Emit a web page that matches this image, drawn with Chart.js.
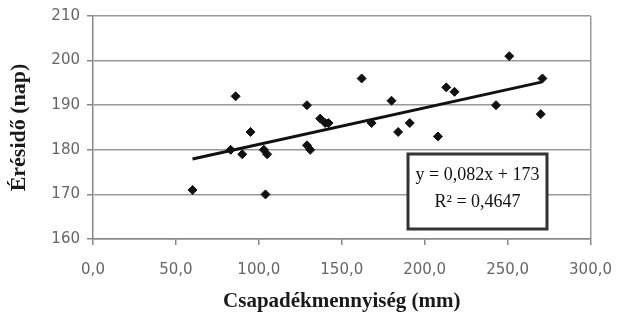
<!DOCTYPE html>
<html>
<head>
<meta charset="utf-8">
<script src="https://cdn.jsdelivr.net/npm/chart.js@4.4.1/dist/chart.umd.min.js"></script>
<style>
  html, body { margin: 0; padding: 0; background: #fff; }
</style>
</head>
<body>
<canvas id="chart" width="628" height="321"></canvas>
<script>
// csapadék (mm) vs. érésidő (nap)
const rainfall = [60, 83, 86, 90, 95, 103, 105, 104, 129, 129, 131, 137, 140, 142, 162, 168, 180, 184, 191, 208, 213, 218, 243, 251, 270, 271];
const days     = [171, 180, 192, 179, 184, 180, 179, 170, 190, 181, 180, 187, 186, 186, 196, 186, 191, 184, 186, 183, 194, 193, 190, 201, 188, 196];

// linear trend as printed in the box
const slope = 0.082;
const intercept = 173;
const trendRange = [60, 271];
const eqLines = ['y = 0,082x + 173', 'R² = 0,4647'];

const xTicks = [0, 50, 100, 150, 200, 250, 300];
const yTicks = [160, 170, 180, 190, 200, 210];

const points = rainfall.map((x, i) => ({ x, y: days[i] }));
const trend = trendRange.map(x => ({ x, y: slope * x + intercept }));

const grid = '#999';
const axis = '#888';
const tickFont = { family: 'DejaVu Sans', size: 15 };

// equation box drawn on top of the plot
const eqBox = {
  id: 'eqBox',
  afterDraw(chart) {
    const ctx = chart.ctx;
    const x = 408, y = 154, w = 139, h = 75;
    ctx.save();
    ctx.fillStyle = '#fff';
    ctx.fillRect(x, y, w, h);
    ctx.lineWidth = 3;
    ctx.strokeStyle = '#333';
    ctx.strokeRect(x, y, w, h);
    ctx.fillStyle = '#111';
    ctx.font = '18px "Liberation Serif"';
    ctx.textAlign = 'center';
    ctx.textBaseline = 'middle';
    ctx.fillText(eqLines[0], x + w / 2, y + 21);
    ctx.fillText(eqLines[1], x + w / 2, y + 48);
    ctx.restore();
  }
};

new Chart(document.getElementById('chart'), {
  type: 'scatter',
  data: {
    datasets: [
      {
        type: 'line',
        data: trend,
        borderColor: '#111',
        borderWidth: 3,
        pointRadius: 0,
        fill: false
      },
      {
        data: points,
        pointStyle: 'rectRot',
        pointRadius: 4.5,
        backgroundColor: '#111',
        borderColor: '#111',
        borderWidth: 1
      }
    ]
  },
  options: {
    responsive: false,
    animation: false,
    layout: { padding: { top: 16, right: 31, left: 0, bottom: 0 } },
    plugins: { legend: { display: false }, tooltip: { enabled: false } },
    scales: {
      x: {
        type: 'linear',
        min: 0, max: 300,
        afterBuildTicks: s => { s.ticks = xTicks.map(value => ({ value })); },
        afterFit: s => { s.height = 82; },
        ticks: {
          font: tickFont, color: '#666', padding: 16, maxRotation: 0,
          callback: v => v.toFixed(1).replace('.', ',')
        },
        grid: {
          color: c => (c.tick && c.tick.value === 300 ? grid : 'transparent'),
          tickColor: axis, lineWidth: 1.5, tickLength: 6
        },
        border: { color: axis, width: 1.5 },
        title: {
          display: true, text: 'Csapadékmennyiség (mm)',
          font: { family: 'Liberation Serif', size: 21, weight: 'bold' }, color: '#1a1a1a',
          padding: { top: 0, bottom: 7 }
        }
      },
      y: {
        min: 160, max: 210,
        afterBuildTicks: s => { s.ticks = yTicks.map(value => ({ value })); },
        afterFit: s => { s.width = 93; },
        ticks: { font: tickFont, color: '#666', padding: 7 },
        grid: { color: grid, tickColor: axis, lineWidth: 1.5, tickLength: 6 },
        border: { color: axis, width: 1.5 },
        title: {
          display: true, text: 'Érésidő (nap)',
          font: { family: 'Liberation Serif', size: 22, weight: 'bold' }, color: '#1a1a1a',
          padding: { top: 6, bottom: 0 }
        }
      }
    }
  },
  plugins: [eqBox]
});
</script>
</body>
</html>
